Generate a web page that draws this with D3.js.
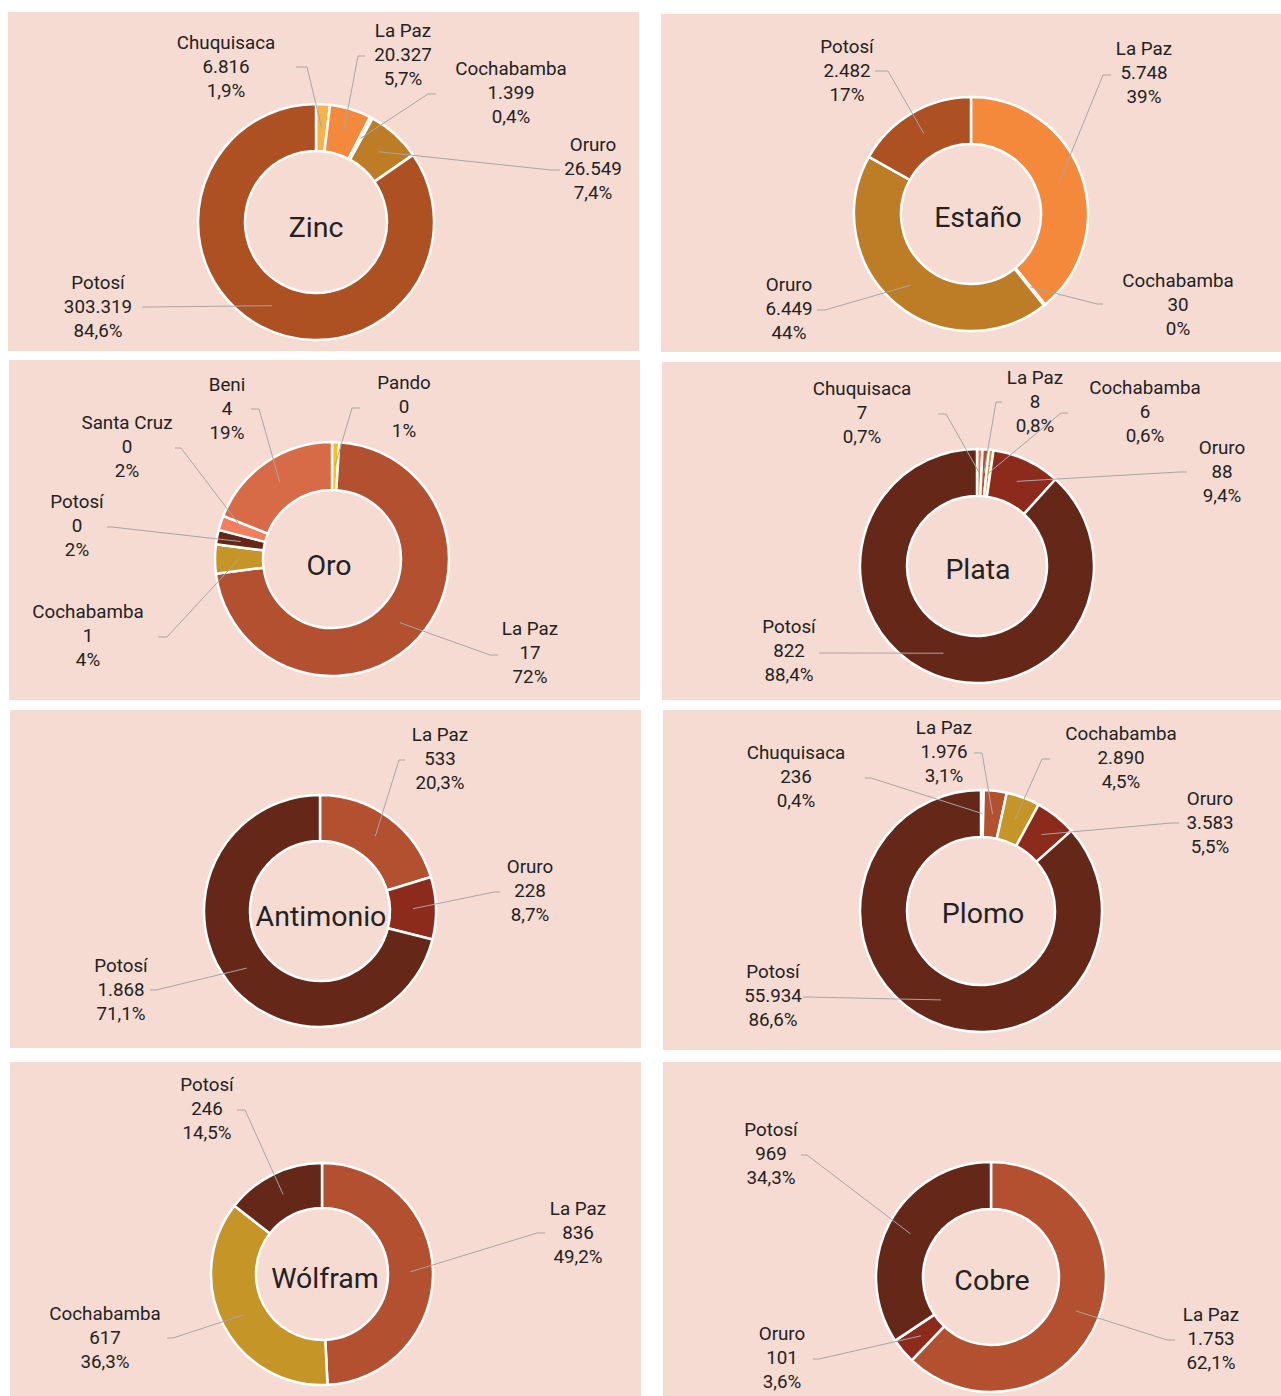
<!DOCTYPE html>
<html>
<head>
<meta charset="utf-8">
<script src="https://cdn.jsdelivr.net/npm/d3@7"></script>
<style>
  body { margin: 0; background: #ffffff; }
  svg text { font-family: Roboto, "Open Sans", sans-serif; fill: #222222; }
</style>
</head>
<body>
<div id="main"></div>
<script>
// data, slices listed clockwise from 12 o'clock
var zincRegions = ["Chuquisaca", "La Paz", "Cochabamba", "Oruro", "Potosí"];
var zincValues = [6816, 20327, 1399, 26549, 303319];
var zincPct = [1.9, 5.7, 0.4, 7.4, 84.6];

var estanoRegions = ["La Paz", "Cochabamba", "Oruro", "Potosí"];
var estanoValues = [5748, 30, 6449, 2482];
var estanoPct = [39, 0, 44, 17];

var oroRegions = ["Pando", "La Paz", "Cochabamba", "Potosí", "Santa Cruz", "Beni"];
var oroValues = [0, 17, 1, 0, 0, 4];
var oroPct = [1, 72, 4, 2, 2, 19];

var plataRegions = ["Chuquisaca", "La Paz", "Cochabamba", "Oruro", "Potosí"];
var plataValues = [7, 8, 6, 88, 822];
var plataPct = [0.7, 0.8, 0.6, 9.4, 88.4];

var antimonioRegions = ["La Paz", "Oruro", "Potosí"];
var antimonioValues = [533, 228, 1868];
var antimonioPct = [20.3, 8.7, 71.1];

var plomoRegions = ["Chuquisaca", "La Paz", "Cochabamba", "Oruro", "Potosí"];
var plomoValues = [236, 1976, 2890, 3583, 55934];
var plomoPct = [0.4, 3.1, 4.5, 5.5, 86.6];

var wolframRegions = ["La Paz", "Cochabamba", "Potosí"];
var wolframValues = [836, 617, 246];
var wolframPct = [49.2, 36.3, 14.5];

var cobreRegions = ["La Paz", "Oruro", "Potosí"];
var cobreValues = [1753, 101, 969];
var cobrePct = [62.1, 3.6, 34.3];

// colours
var colorsA = {"Chuquisaca": "#f8b24c", "La Paz": "#f5893b", "Cochabamba": "#f2c14e",
               "Oruro": "#bd7d27", "Potosí": "#ad5122"};
var colorsB = {"Chuquisaca": "#f07a52", "La Paz": "#b2502f", "Cochabamba": "#c69527",
               "Oruro": "#8c2b1c", "Potosí": "#642718", "Santa Cruz": "#f27e5e",
               "Beni": "#d76b48", "Pando": "#f7c11c"};

var loc = d3.formatLocale({decimal: ",", thousands: ".", grouping: [3], currency: ["", ""]});
var fmtVal = loc.format(",d");

// layout: panel box, donut centre / radii, title spot, labels [cx, y, elbowX, endX, stubY]
var charts = [
  {title: "Zinc", regions: zincRegions, values: zincValues, pct: zincPct, weight: zincValues, colors: colorsA, dec: 1,
   box: [8, 12, 631, 339], c: [316, 222], R: 118, r: 71, t: [316, 227],
   labels: [[226, 67, 307, 296, 67], [403, 55, 358, 365, 56], [511, 93, 428, 436, 94], [593, 169, 551, 560, 170], [98, 307, 148, 142, 307]]},
  {title: "Estaño", regions: estanoRegions, values: estanoValues, pct: estanoPct, weight: estanoValues, colors: colorsA, dec: 0,
   box: [661, 14, 620, 338], c: [971, 214], R: 117, r: 70, t: [978, 217],
   labels: [[1144, 73, 1103, 1111, 75], [1178, 305, 1097, 1103, 304], [789, 309, 825, 817, 310], [847, 71, 888, 875, 71]]},
  {title: "Oro", regions: oroRegions, values: oroValues, pct: oroPct, weight: oroPct, colors: colorsB, dec: 0,
   box: [9, 360, 631, 340], c: [332, 559], R: 117, r: 69, t: [329, 565],
   labels: [[404, 407, 352, 360, 408], [530, 653, 490, 498, 655], [88, 636, 167, 158, 637], [77, 526, 112, 107, 527], [127, 447, 181, 175, 448], [227, 409, 259, 251, 409]]},
  {title: "Plata", regions: plataRegions, values: plataValues, pct: plataPct, weight: plataValues, colors: colorsB, dec: 1,
   box: [662, 362, 619, 338], c: [977, 566], R: 117, r: 70, t: [978, 569],
   labels: [[862, 413, 946, 938, 414], [1035, 402, 996, 1002, 402], [1145, 412, 1061, 1068, 413], [1222, 472, 1179, 1187, 472], [789, 651, 825, 819, 653]]},
  {title: "Antimonio", regions: antimonioRegions, values: antimonioValues, pct: antimonioPct, weight: antimonioValues, colors: colorsB, dec: 1,
   box: [10, 710, 631, 338], c: [320, 911], R: 116, r: 70, t: [321, 916],
   labels: [[440, 759, 399, 405, 760], [530, 891, 494, 500, 892], [121, 990, 156, 150, 990]]},
  {title: "Plomo", regions: plomoRegions, values: plomoValues, pct: plomoPct, weight: plomoValues, colors: colorsB, dec: 1,
   box: [663, 710, 618, 340], c: [981, 911], R: 121, r: 74, t: [983, 913],
   labels: [[796, 777, 871, 865, 778], [944, 752, 982, 974, 753], [1121, 758, 1042, 1050, 759], [1210, 823, 1171, 1179, 823], [773, 996, 808, 803, 997]]},
  {title: "Wólfram", regions: wolframRegions, values: wolframValues, pct: wolframPct, weight: wolframValues, colors: colorsB, dec: 1,
   box: [10, 1062, 631, 334], c: [322, 1274], R: 111, r: 66, t: [325, 1278],
   labels: [[578, 1233, 537, 545, 1233], [105, 1338, 173, 167, 1338], [207, 1109, 245, 237, 1110]]},
  {title: "Cobre", regions: cobreRegions, values: cobreValues, pct: cobrePct, weight: cobreValues, colors: colorsB, dec: 1,
   box: [663, 1062, 618, 334], c: [991, 1277], R: 115, r: 68, t: [992, 1280],
   labels: [[1211, 1339, 1167, 1175, 1340], [782, 1358, 819, 813, 1359], [771, 1154, 807, 801, 1155]]}
];

var svg = d3.select("#main").append("svg")
    .attr("width", 1281)
    .attr("height", 1396);

var pie = d3.pie().sort(null).value(function(d) { return d.w; });

charts.forEach(function(ch) {
    var g = svg.append("g");
    g.append("rect")
        .attr("x", ch.box[0]).attr("y", ch.box[1])
        .attr("width", ch.box[2]).attr("height", ch.box[3])
        .attr("fill", "#f6dbd3");

    var rows = ch.regions.map(function(name, i) {
        return {name: name, v: ch.values[i], p: ch.pct[i], w: ch.weight[i]};
    });
    var arcs = pie(rows);
    var arc = d3.arc().innerRadius(ch.r).outerRadius(ch.R);
    var mid = d3.arc().innerRadius((ch.r + ch.R) / 2).outerRadius((ch.r + ch.R) / 2);
    var fmtPct = loc.format("." + ch.dec + "f");

    var donut = g.append("g").attr("transform", "translate(" + ch.c[0] + "," + ch.c[1] + ")");
    donut.selectAll("path")
        .data(arcs)
        .enter()
        .append("path")
        .attr("d", arc)
        .attr("fill", function(d) { return ch.colors[d.data.name]; })
        .attr("stroke", "#ffffff")
        .attr("stroke-width", 2.5)
        .attr("stroke-linejoin", "round");

    // leader lines
    arcs.forEach(function(d, i) {
        var lb = ch.labels[i];
        var p = mid.centroid(d);
        var pts = [[ch.c[0] + p[0], ch.c[1] + p[1]], [lb[2], lb[4]], [lb[3], lb[4]]];
        g.append("path")
            .attr("d", d3.line()(pts))
            .attr("fill", "none")
            .attr("stroke", "#a6a6a6")
            .attr("stroke-width", 1);
    });

    // labels
    arcs.forEach(function(d, i) {
        var lb = ch.labels[i];
        var t = g.append("text")
            .attr("text-anchor", "middle")
            .attr("font-size", 18.8)
            .attr("dominant-baseline", "central");
        var lines = [d.data.name, fmtVal(d.data.v), fmtPct(d.data.p) + "%"];
        lines.forEach(function(s, k) {
            t.append("tspan")
                .attr("x", lb[0])
                .attr("y", lb[1] + (k - 1) * 24)
                .text(s);
        });
    });

    g.append("text")
        .attr("x", ch.t[0])
        .attr("y", ch.t[1])
        .attr("text-anchor", "middle")
        .attr("dominant-baseline", "central")
        .attr("font-size", 28.5)
        .text(ch.title);
});
</script>
</body>
</html>
